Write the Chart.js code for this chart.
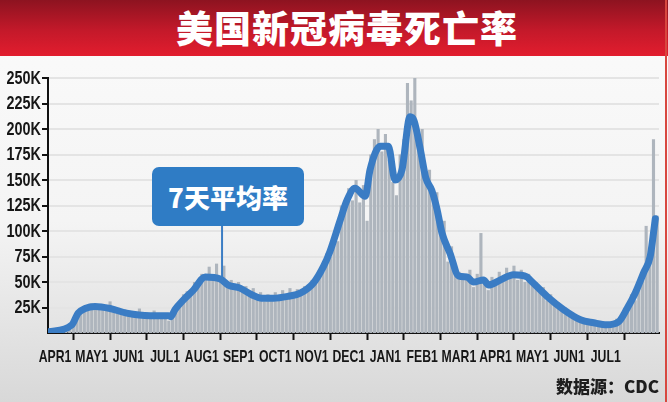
<!DOCTYPE html>
<html>
<head>
<meta charset="utf-8">
<script src="https://cdn.jsdelivr.net/npm/chart.js@4.4.0/dist/chart.umd.min.js"></script>
<style>
    html, body { margin: 0; padding: 0; }
    body {
        width: 668px; height: 402px; position: relative; overflow: hidden;
        background: linear-gradient(#fbfbfb 0%, #f4f4f4 55%, #d8d8d8 100%);
        font-family: 'Noto Sans CJK SC', sans-serif;
    }
    .banner {
        position: absolute; left: 0; top: 0; width: 668px; height: 56px;
        background: linear-gradient(#8d1320 0%, #c4192a 55%, #e21d2e 100%);
        z-index: 2;
    }
    .banner h1 {
        margin: 0; position: absolute; left: 26px; right: 0; top: 4px;
        text-align: center; color: #fff; font-size: 37px; font-weight: 900;
        line-height: 46px; letter-spacing: 1px;
    }
    .edge { position: absolute; left: 665px; top: 0; width: 2px; height: 402px; background: #d8473f; z-index: 3; }
    #chart { position: absolute; left: 0; top: 0; z-index: 1; }
    .note {
        position: absolute; left: 152px; top: 167px; width: 152px; height: 59px;
        background: #2f7cc5; border-radius: 7px; z-index: 2;
        color: #fff; font-size: 26px; font-weight: 900; text-align: center; line-height: 59px;
    }
    .source {
        position: absolute; right: 9px; top: 373px; z-index: 2;
        color: #1e1e1e; font-size: 17px; font-weight: 900;
    }
</style>
</head>
<body>
<div class="banner"><h1>美国新冠病毒死亡率</h1></div>
<canvas id="chart" width="668" height="402"></canvas>
<div class="note">7天平均率</div>
<div class="source">数据源：CDC</div>
<div class="edge"></div>

<script>
// ============================================
// DATA (x in months since APR1 2020, y in thousands)
// ============================================
const MONTH_LABELS = ['APR1', 'MAY1', 'JUN1', 'JUL1', 'AUG1', 'SEP1', 'OCT1', 'NOV1',
    'DEC1', 'JAN1', 'FEB1', 'MAR1', 'APR1', 'MAY1', 'JUN1', 'JUL1'];

const Y_TICKS = [25, 50, 75, 100, 125, 150, 175, 200, 225, 250];

// daily counts, sampled every 0.1 month starting at -0.2
const BAR_START = -0.2;
const BAR_STEP = 0.1;
const BAR_VALUES = [
    1, 2,
    3, 4, 5, 6, 7, 10, 18, 22, 26, 24,
    29, 25, 27, 23, 26, 31, 22, 24, 20, 23,
    18, 21, 19, 24, 17, 20, 16, 22, 17, 19,
    16, 12, 20, 27, 30, 38, 41, 40, 50, 46,
    58, 52, 65, 55, 68, 53, 66, 50, 52, 45,
    50, 43, 46, 38, 44, 36, 40, 31, 38, 33,
    40, 35, 42, 34, 44, 37, 43, 40, 46, 47,
    52, 50, 62, 60, 78, 75, 95, 90, 125, 120,
    142, 130, 150, 128, 145, 110, 175, 190, 200, 178,
    195, 170, 148, 135, 175, 190, 245, 228, 252, 190,
    200, 150, 160, 130, 138, 105, 110, 70, 85, 62,
    60, 58, 52, 62, 45, 58, 98, 50, 42, 55,
    48, 60, 52, 64, 55, 66, 52, 62, 50, 58,
    48, 50, 40, 45, 32, 38, 28, 30, 22, 25,
    18, 20, 14, 16, 11, 13, 9, 12, 8, 11,
    7, 10, 9, 14, 12, 22, 28, 38, 32, 50,
    55, 105, 80, 190, 115
];

// 7-day average
const LINE_MONTHS = [-0.2, 0.46, 0.63, 0.82, 1.09, 1.5, 1.95, 2.59, 3.09, 3.15, 3.27, 3.5, 3.77,
    4.09, 4.5, 4.72, 5.04, 5.36, 5.63, 5.95, 6.36, 6.68, 7.04, 7.31, 7.49, 7.77, 7.95,
    8.17, 8.45, 8.58, 8.86, 9.08, 9.26, 9.45, 9.67, 9.78, 9.95, 10.1, 10.26, 10.4, 10.54,
    10.76, 10.99, 11.22, 11.4, 11.67, 11.81, 12.13, 12.49, 12.85, 12.94, 13.4, 13.85,
    14.31, 14.67, 15.03, 15.35, 15.58, 15.8, 16.03, 16.21, 16.3, 16.35];
const LINE_VALUES = [1, 8, 19.5, 24, 26, 24, 19.5, 17, 17, 16, 23, 32.5, 42,
    55, 53, 47, 44, 37.5, 34, 34, 36, 39, 49, 65, 80, 111, 130,
    142, 134, 160, 183, 183, 150, 160, 212, 208, 180, 152, 140, 122, 98,
    78, 56, 55, 50, 52, 47, 52, 57, 55, 52, 36, 23,
    13, 10, 8, 11, 24, 39, 59, 75, 98, 112];

const NOTE_MONTH = 4.55;
const NOTE_VALUE = 51;

// ============================================
// PLUGINS
// ============================================
const labelFont = "'Liberation Sans', Arial, sans-serif";

// pointer from the note box down to the curve
const noteLine = {
    id: 'noteLine',
    afterDatasetsDraw(chart) {
        const { ctx, scales } = chart;
        const x = scales.x.getPixelForValue(NOTE_MONTH);
        const y = scales.y.getPixelForValue(NOTE_VALUE);
        ctx.save();
        ctx.strokeStyle = '#3b7dc4';
        ctx.lineWidth = 2;
        ctx.beginPath();
        ctx.moveTo(x, 226);
        ctx.lineTo(x, y);
        ctx.stroke();
        ctx.restore();
    }
};

// condensed tick labels (squeezed horizontally)
const narrowLabels = {
    id: 'narrowLabels',
    afterDraw(chart) {
        const { ctx, scales } = chart;
        ctx.save();
        ctx.fillStyle = '#161616';

        ctx.font = 'bold 18px ' + labelFont;
        ctx.textAlign = 'right';
        ctx.textBaseline = 'middle';
        Y_TICKS.forEach(v => {
            ctx.save();
            ctx.translate(41, scales.y.getPixelForValue(v) + 1);
            ctx.scale(0.8, 1);
            ctx.fillText(v + 'K', 0, 0);
            ctx.restore();
        });

        ctx.font = 'bold 17px ' + labelFont;
        ctx.textAlign = 'center';
        MONTH_LABELS.forEach((label, i) => {
            ctx.save();
            ctx.translate(scales.x.getPixelForValue(i), 357);
            ctx.scale(0.72, 1);
            ctx.fillText(label, 0, 0);
            ctx.restore();
        });
        ctx.restore();
    }
};

// ============================================
// CHART
// ============================================
new Chart(document.getElementById('chart'), {
    type: 'bar',
    data: {
        datasets: [{
            type: 'line',
            data: LINE_MONTHS.map((m, i) => ({ x: m, y: LINE_VALUES[i] })),
            borderColor: '#3a7cc4',
            borderWidth: 7,
            pointRadius: 0,
            cubicInterpolationMode: 'monotone',
            borderCapStyle: 'round',
            borderJoinStyle: 'round',
            order: 0
        }, {
            type: 'bar',
            data: BAR_VALUES.map((v, i) => ({ x: BAR_START + i * BAR_STEP, y: v })),
            backgroundColor: '#aeb5bd',
            barPercentage: 0.85,
            categoryPercentage: 1,
            order: 1
        }]
    },
    options: {
        responsive: false,
        animation: false,
        layout: { padding: { top: 78, right: 9, bottom: 0, left: 0 } },
        plugins: { legend: { display: false }, tooltip: { enabled: false } },
        scales: {
            x: {
                type: 'linear',
                min: -0.19,
                max: 16.45,
                offset: false,
                afterBuildTicks: scale => {
                    scale.ticks = MONTH_LABELS.map((_, i) => ({ value: i }));
                },
                afterFit: scale => { scale.height = 69; },
                border: { color: '#111', width: 2 },
                grid: { drawOnChartArea: false, tickLength: 7, tickWidth: 2, tickColor: '#111' },
                ticks: { display: false }
            },
            y: {
                min: 0,
                max: 250,
                afterBuildTicks: scale => {
                    scale.ticks = Y_TICKS.map(v => ({ value: v }));
                },
                afterFit: scale => { scale.width = 48; },
                border: { color: '#111', width: 2 },
                grid: { color: '#e4e4e4', lineWidth: 2, tickLength: 6, tickWidth: 2, tickColor: '#111' },
                ticks: { display: false }
            }
        }
    },
    plugins: [noteLine, narrowLabels]
});
</script>
</body>
</html>
